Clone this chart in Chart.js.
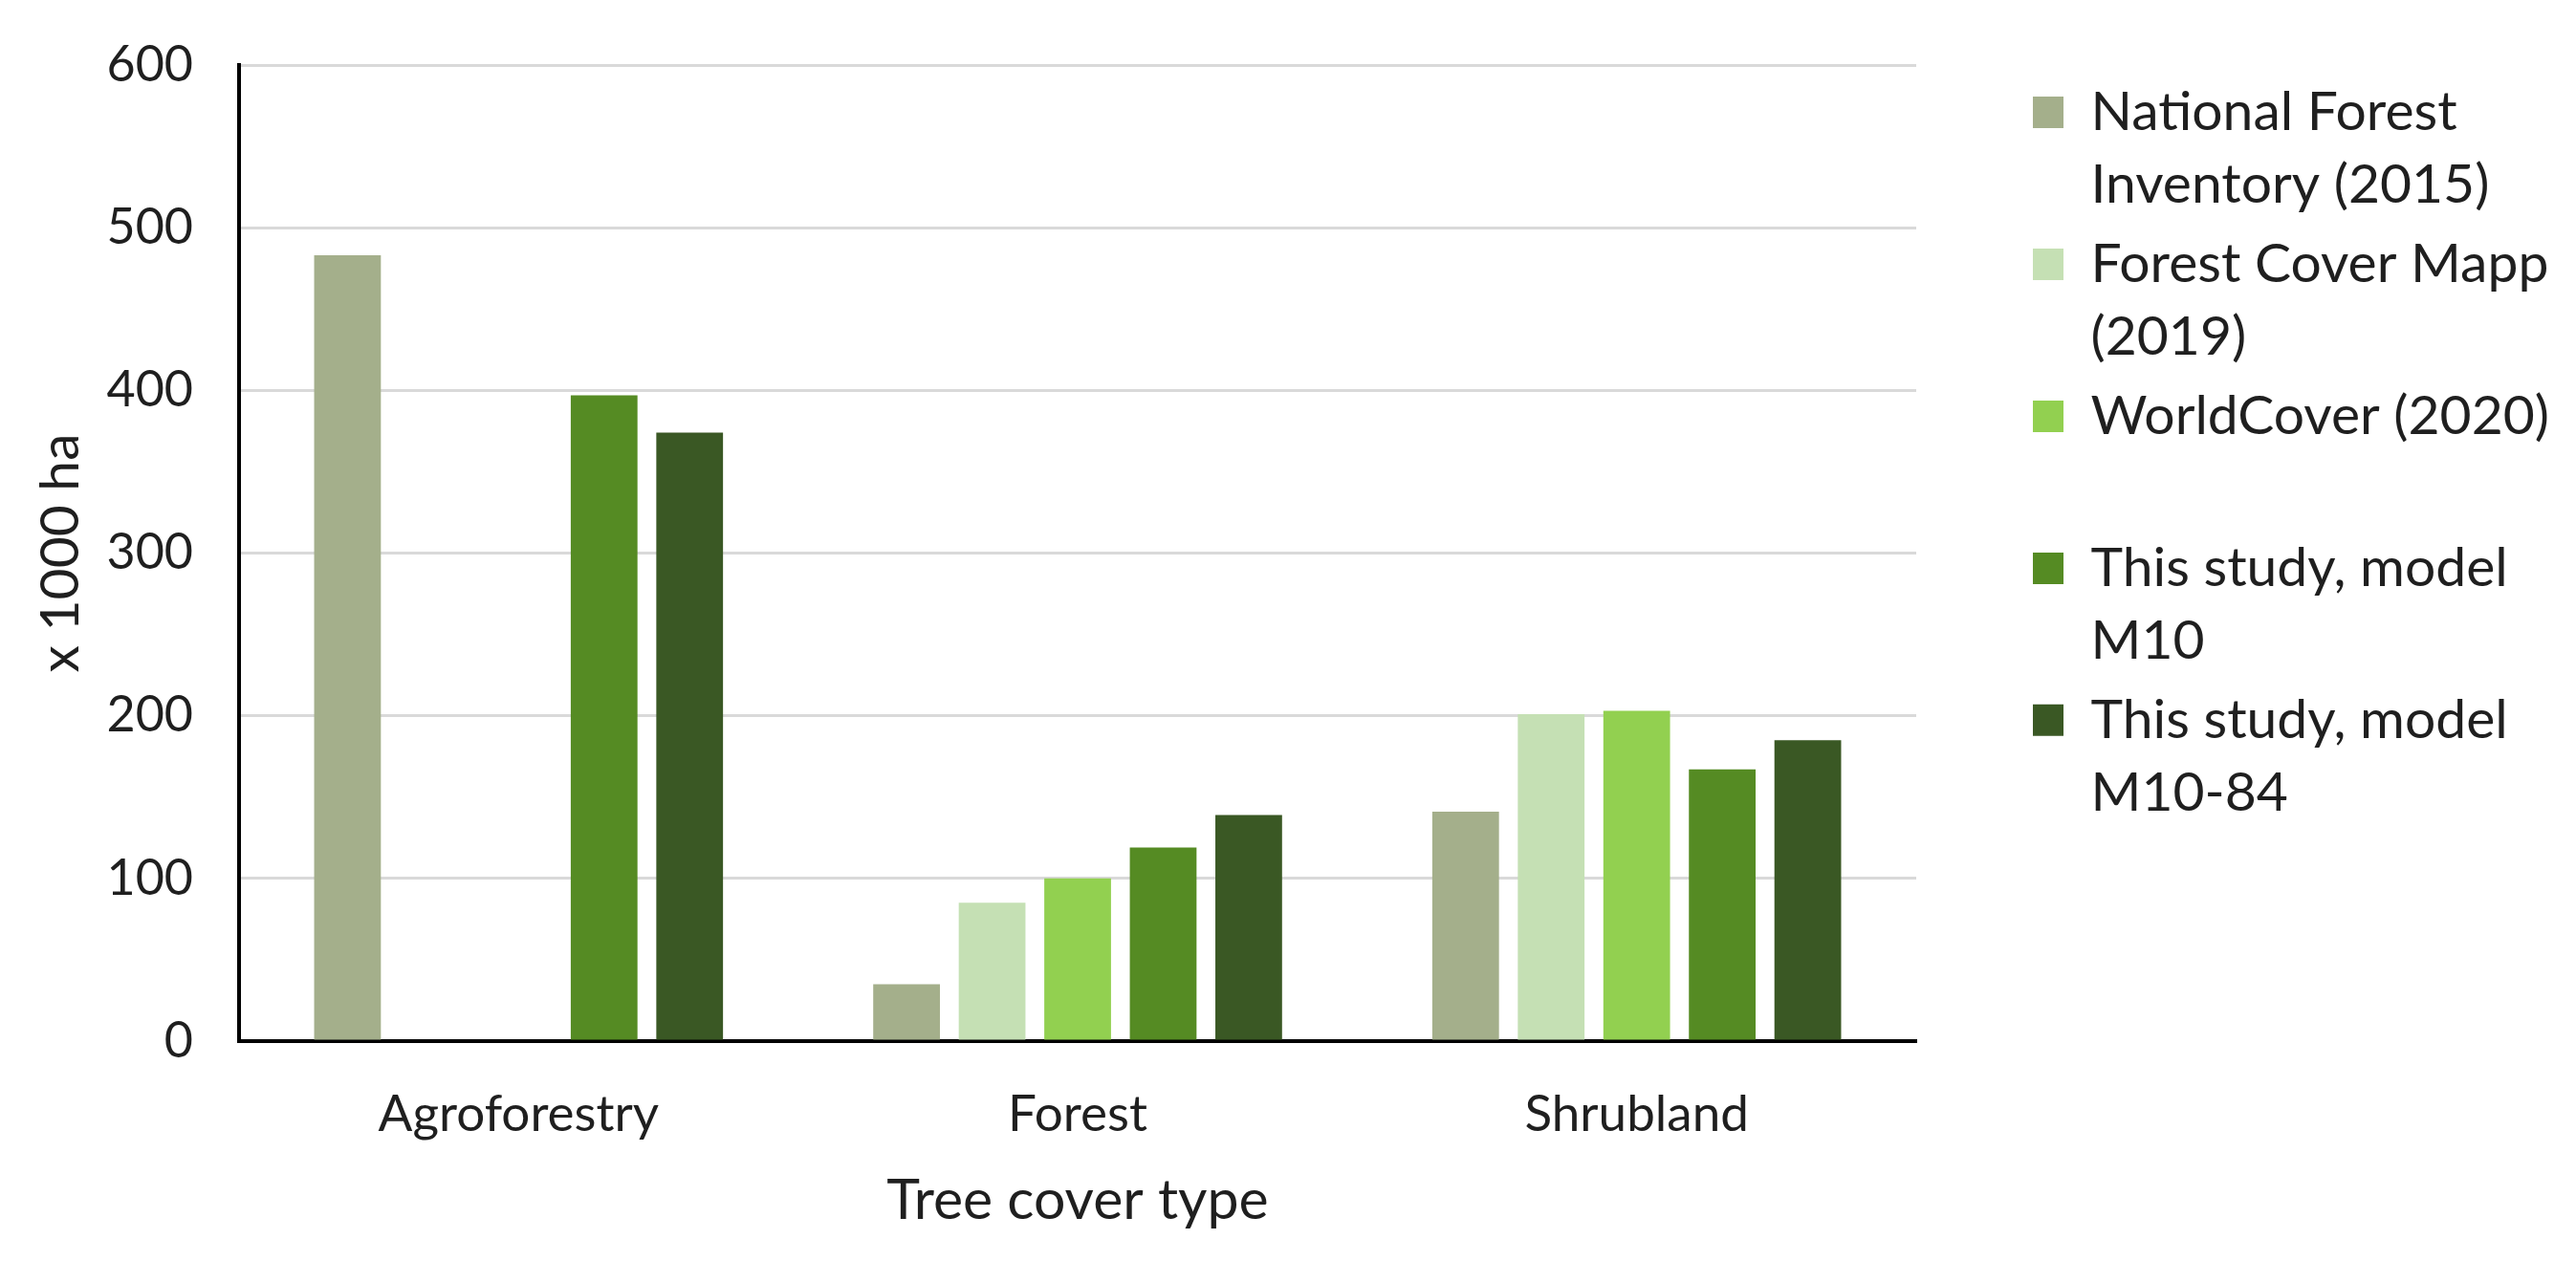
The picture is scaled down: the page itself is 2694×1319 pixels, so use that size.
<!DOCTYPE html>
<html>
<head>
<meta charset="utf-8">
<script src="https://cdn.jsdelivr.net/npm/chart.js@4"></script>
<style>
    html, body { margin: 0; padding: 0; background: #ffffff; }
    .wrap { width: 2694px; height: 1319px; position: relative; }
</style>
</head>
<body>
<div class="wrap"><canvas class="chart"></canvas></div>
<script>
// Categories on the x axis
const coverTypes = ['Agroforestry', 'Forest', 'Shrubland'];

// Series values (x 1000 ha)
const nationalInventory = [483, 35, 141];
const forestCoverMap = [null, 85, 201];
const worldCover = [null, 100, 203];
const modelM10 = [397, 119, 167];
const modelM1084 = [374, 139, 185];

// Y axis ticks
const yTicks = [0, 100, 200, 300, 400, 500, 600];

// Legend text, wrapped the way the picture wraps it
const seriesNames = [
    'National Forest Inventory (2015)',
    'Forest Cover Mapp (2019)',
    'WorldCover (2020)',
    'This study, model M10',
    'This study, model M10-84'
];
const legendLines = [
    ['National Forest', 'Inventory (2015)'],
    ['Forest Cover Mapp', '(2019)'],
    ['WorldCover (2020)', ''],
    ['This study, model', 'M10'],
    ['This study, model', 'M10-84']
];
const seriesColors = ['#a4af8b', '#c5e0b4', '#92d050', '#558b23', '#3a5824'];

const textColor = '#1f1f1f';
const fontFamily = 'Lato, "Open Sans", sans-serif';

const ctx = document.querySelector('.chart').getContext('2d');

const seriesData = [nationalInventory, forestCoverMap, worldCover, modelM10, modelM1084];

const chart = new Chart(ctx, {
    type: 'bar',
    data: {
        labels: coverTypes,
        datasets: seriesData.map((values, i) => ({
            label: seriesNames[i],
            data: values,
            backgroundColor: seriesColors[i],
            borderWidth: 0,
            categoryPercentage: 0.765,
            barPercentage: 0.78
        }))
    },
    options: {
        responsive: true,
        maintainAspectRatio: false,
        animation: false,
        layout: {
            padding: { top: 68, right: 18, bottom: 0, left: 0 }
        },
        plugins: {
            tooltip: { enabled: false },
            legend: {
                position: 'right',
                align: 'start',
                title: {
                    display: true,
                    text: '',
                    font: { size: 14, lineHeight: 1 },
                    padding: 0
                },
                labels: {
                    boxWidth: 32,
                    boxHeight: 33,
                    padding: 7,
                    color: textColor,
                    font: { family: fontFamily, size: 57, lineHeight: 1.333 },
                    generateLabels: function (chart) {
                        return chart.data.datasets.map((ds, i) => ({
                            text: legendLines[i],
                            fillStyle: ds.backgroundColor,
                            strokeStyle: ds.backgroundColor,
                            fontColor: textColor,
                            lineWidth: 0,
                            hidden: false,
                            datasetIndex: i
                        }));
                    }
                }
            }
        },
        scales: {
            x: {
                grid: { display: false, drawTicks: false },
                border: { display: true, color: '#000000', width: 4 },
                ticks: {
                    color: textColor,
                    padding: 45,
                    font: { family: fontFamily, size: 53 }
                },
                title: {
                    display: true,
                    text: 'Tree cover type',
                    color: textColor,
                    font: { family: fontFamily, size: 59 },
                    padding: { top: 0, bottom: 28 }
                },
                afterFit: function (scale) {
                    scale.height = 230;
                }
            },
            y: {
                min: 0,
                max: 600,
                afterBuildTicks: function (scale) {
                    scale.ticks = yTicks.map(v => ({ value: v }));
                },
                grid: { color: '#d9d9d9', lineWidth: 3, drawTicks: false },
                border: { display: true, color: '#000000', width: 4 },
                ticks: {
                    color: textColor,
                    padding: 48,
                    font: { family: fontFamily, size: 52 }
                },
                title: {
                    display: true,
                    text: 'x 1000 ha',
                    color: textColor,
                    font: { family: fontFamily, size: 57 },
                    padding: { top: 29, bottom: 0 }
                },
                afterFit: function (scale) {
                    scale.width = 250;
                    // tick padding should not push the plot down
                    scale.paddingTop = 0;
                    scale.paddingBottom = 0;
                }
            },
            // empty space between the plot and the legend
            gap: {
                type: 'linear',
                position: 'right',
                display: false,
                afterFit: function (scale) {
                    scale.width = 115;
                }
            }
        }
    }
});
</script>
</body>
</html>
